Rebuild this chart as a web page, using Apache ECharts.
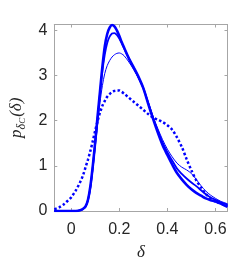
<!DOCTYPE html>
<html><head><meta charset="utf-8">
<script src="https://cdn.jsdelivr.net/npm/echarts@6/dist/echarts.min.js"></script>
<style>html,body{margin:0;padding:0;background:#fff}#c{width:240px;height:266px}</style>
</head><body><div id="c"></div>
<script>
var xs = [-0.07,-0.05,-0.03,-0.01,0,0.02,0.04,0.05,0.06,0.07,0.08,0.09,0.1,0.11,0.12,0.13,0.14,0.15,0.16,0.17,0.18,0.19,0.2,0.21,0.22,0.24,0.26,0.28,0.3,0.32,0.34,0.36,0.38,0.4,0.42,0.44,0.46,0.48,0.5,0.52,0.54,0.56,0.58,0.6,0.62,0.65];
var thick = [0,0,0,0,0,0,0.02,0.05,0.1,0.25,0.55,1.0,1.53,2.1,2.65,3.2,3.65,3.92,4.06,4.12,4.09,4.0,3.88,3.74,3.62,3.38,3.18,2.97,2.72,2.38,2.05,1.74,1.46,1.24,1.03,0.84,0.7,0.58,0.48,0.4,0.34,0.28,0.24,0.21,0.17,0.09];
var medium = [0,0,0,0,0,0,0.02,0.05,0.1,0.24,0.52,0.97,1.5,2.05,2.6,3.1,3.47,3.72,3.86,3.93,3.94,3.9,3.82,3.72,3.6,3.38,3.17,2.96,2.72,2.4,2.07,1.78,1.52,1.3,1.12,0.94,0.82,0.72,0.63,0.55,0.46,0.37,0.3,0.25,0.2,0.14];
var thin = [0,0,0,0,0,0,0.02,0.05,0.1,0.22,0.48,0.9,1.4,1.9,2.4,2.78,3.05,3.22,3.33,3.41,3.46,3.49,3.5,3.48,3.44,3.3,3.13,2.94,2.72,2.42,2.1,1.83,1.58,1.37,1.2,1.06,0.97,0.91,0.83,0.7,0.56,0.44,0.35,0.28,0.22,0.16];
var dotted = [0.04,0.08,0.15,0.25,0.3,0.46,0.67,0.8,0.97,1.14,1.33,1.55,1.78,1.99,2.18,2.33,2.44,2.53,2.59,2.63,2.66,2.67,2.67,2.64,2.6,2.51,2.42,2.33,2.24,2.15,2.07,2.02,1.97,1.9,1.8,1.63,1.42,1.15,0.9,0.68,0.52,0.38,0.28,0.21,0.17,0.12];
var xTicks = [0,0.2,0.4,0.6];
var yTicks = [0,1,2,3,4];

function pairs(ys){ return xs.map(function(x,i){ return [x, ys[i]]; }); }

var chart = echarts.init(document.getElementById('c'), null, {renderer:'canvas'});
var axCol = '#a6a6a6';
var lblStyle = {color:'#262626', fontFamily:'Liberation Sans, Arial, sans-serif', fontSize:16};
function xAx(pos, show){
  return {type:'value', position:pos, min:-0.07, max:0.65,
    axisLine:{show:true, onZero:false, lineStyle:{color:axCol, width:1}},
    axisTick:{show:true, inside:true, length:3, customValues:xTicks, lineStyle:{color:axCol}},
    axisLabel:Object.assign({show:show, margin:11, customValues:xTicks, formatter:function(v){return String(+v.toFixed(1));}}, lblStyle),
    splitLine:{show:false},
    name: show ? 'δ' : '', nameLocation:'middle', nameGap:33,
    nameTextStyle:{fontFamily:'Liberation Serif, Times New Roman, serif', fontStyle:'italic', fontSize:17, color:'#262626'}
  };
}
function yAx(pos, show){
  return {type:'value', position:pos, min:0, max:4.13,
    axisLine:{show:true, onZero:false, lineStyle:{color:axCol, width:1}},
    axisTick:{show:true, inside:true, length:3, customValues:yTicks, lineStyle:{color:axCol}},
    axisLabel:Object.assign({show:show, margin:7, customValues:yTicks}, lblStyle),
    splitLine:{show:false},
    name: show ? '{p|p}{s|δ}{c|C}{p|(δ)}' : '', nameLocation:'middle', nameGap:24, nameRotate:90,
    nameTextStyle:{rich:{
      p:{fontFamily:'Liberation Serif, serif', fontStyle:'italic', fontSize:17, color:'#262626', lineHeight:22, verticalAlign:'middle'},
      s:{fontFamily:'Liberation Serif, serif', fontStyle:'italic', fontSize:12, color:'#262626', lineHeight:22, verticalAlign:'bottom', padding:[6,0,0,0]},
      c:{fontFamily:'Liberation Serif, serif', fontStyle:'italic', fontSize:9, color:'#262626', lineHeight:22, verticalAlign:'bottom', padding:[9,1,0,0]}
    }}
  };
}
var blue = '#0000ff';
function ser(ys, w, type, z){
  return {type:'line', data:pairs(ys), showSymbol:false, symbol:'none', smooth:0.3, z:z,
    lineStyle:{color:blue, width:w, type:type, cap:'butt'}, itemStyle:{color:blue}, animation:false};
}
chart.setOption({
  animation:false,
  grid:{left:51, top:24.5, right:12.5, bottom:53.5, containLabel:false},
  xAxis:[xAx('bottom', true), xAx('top', false)],
  yAxis:[yAx('left', true), yAx('right', false)],
  series:[
    ser(dotted, 2.5, [2.5,2.2], 2),
    ser(thin, 1, 'solid', 3),
    ser(medium, 1.8, 'solid', 4),
    ser(thick, 2.6, 'solid', 5)
  ]
});
</script></body></html>
